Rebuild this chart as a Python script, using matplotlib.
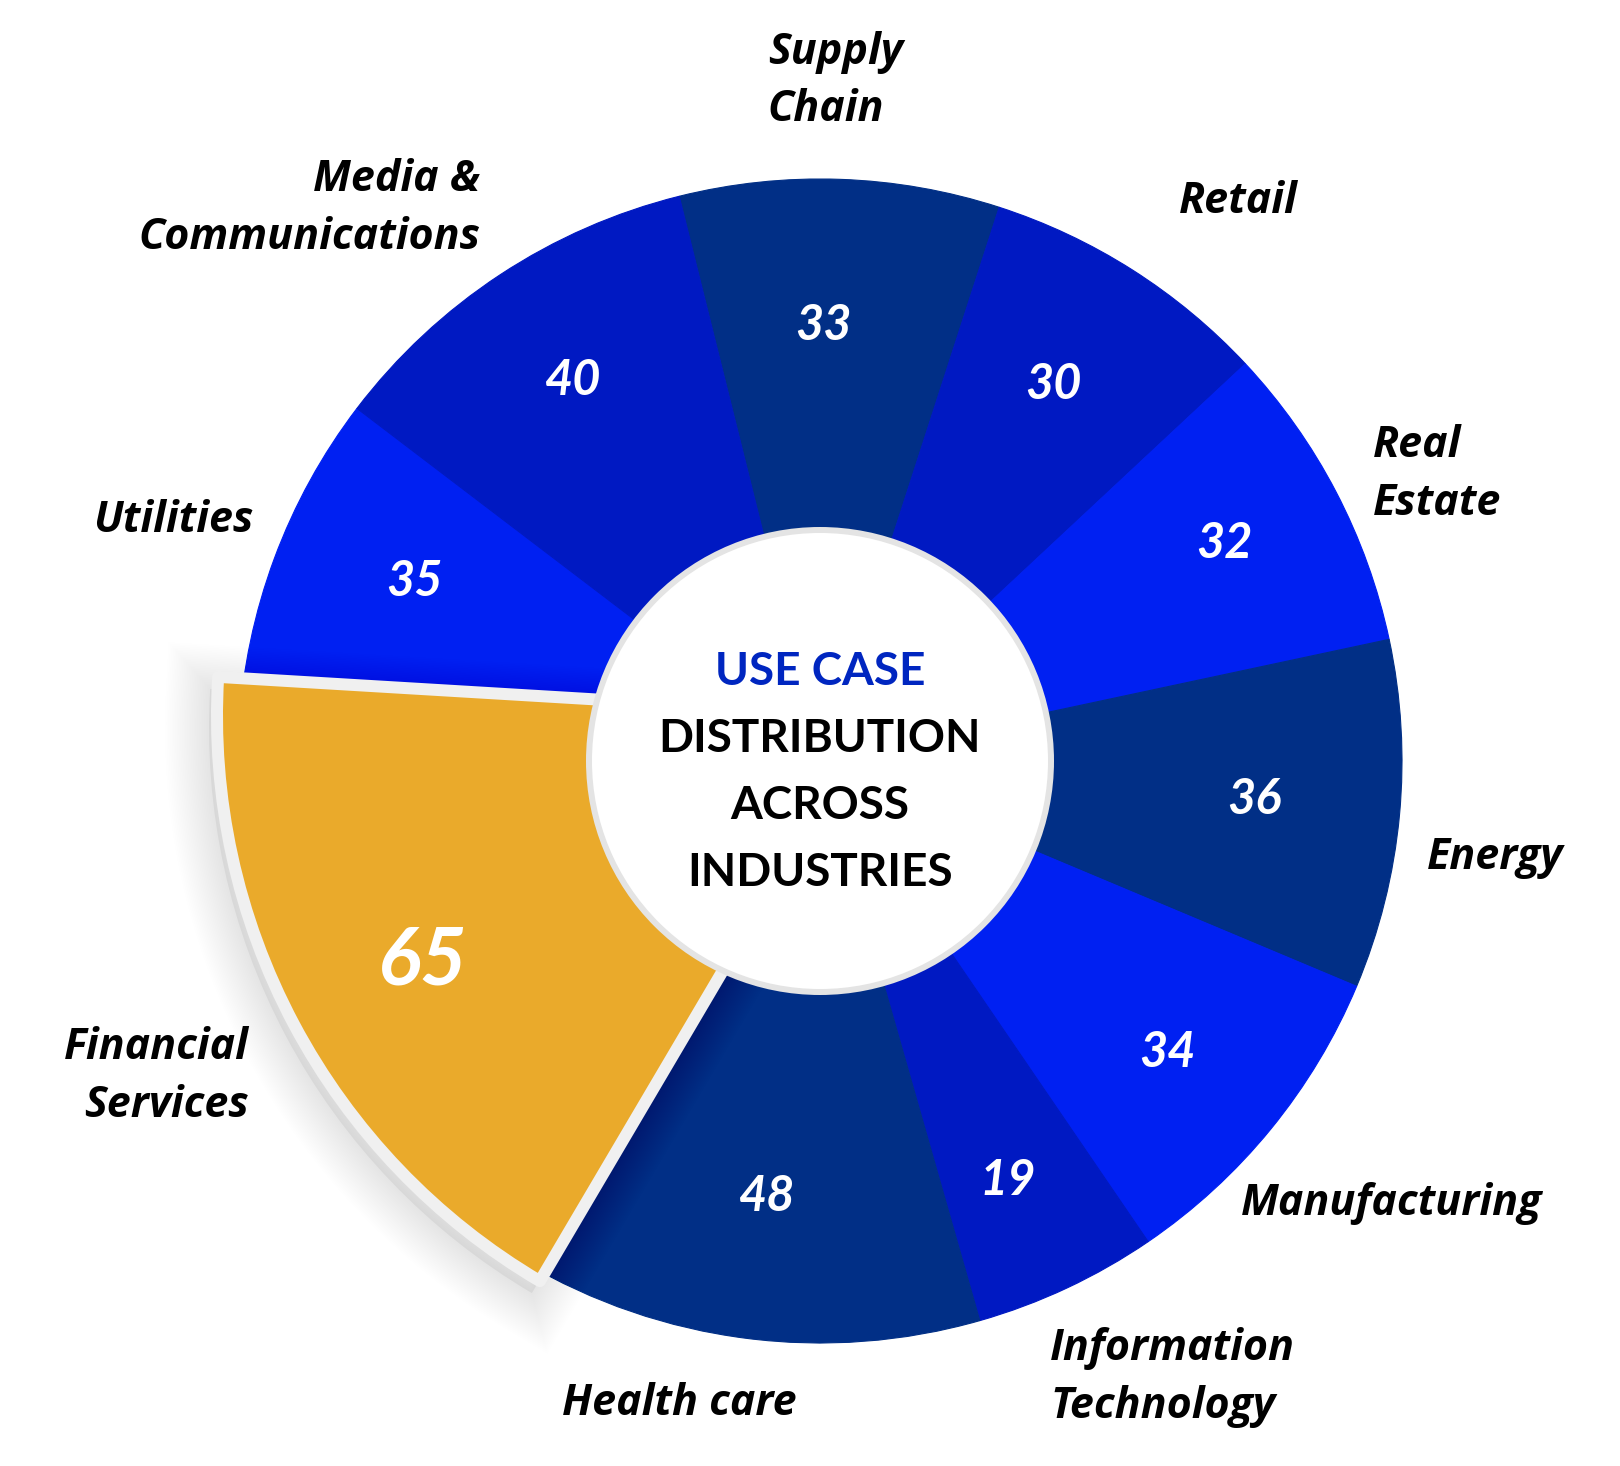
import numpy as np
import matplotlib
matplotlib.use("Agg")
import matplotlib.pyplot as plt
from matplotlib.patches import Wedge, Circle

plt.rcParams['font.family'] = ['Lato', 'DejaVu Sans']

# data, clockwise from the top
industries = ["Supply\nChain", "Retail", "Real\nEstate", "Energy", "Manufacturing",
              "Information\nTechnology", "Health care", "Financial\nServices",
              "Utilities", "Media &\nCommunications"]
use_cases = [33, 30, 32, 36, 34, 19, 48, 65, 35, 40]

NAVY, MID, BRIGHT, ORANGE = '#012F86', '#0019C2', '#0020F2', '#EAAA2B'
colors = [NAVY, MID, BRIGHT, NAVY, BRIGHT, MID, NAVY, ORANGE, BRIGHT, MID]

center_lines = ["USE CASE", "DISTRIBUTION", "ACROSS", "INDUSTRIES"]
center_colors = ['#0026C0', 'black', 'black', 'black']

# layout (pixels)
W, H = 1620, 1466
cx, cy = 820, H - 761
R = 582
R_hole = 231
label_r = 620
num_r = 445
# small hand nudges (dx right, dy down) for outside labels and values
nudge = [(-6, -10), (26, -15), (3, 0), (-10, 39), (-59, 29),
         (-33, 5), (-62, 6), (-24, 24), (15, -25), (1, 16)]
num_nudge = [(-12, 6), (-5, -4), (10, -15), (-9, -6), (3, 7),
             (-1, 14), (4, -9), (-4, -15), (12, -28), (-2, -12)]

fig = plt.figure(figsize=(W / 100, H / 100), dpi=100)
ax = fig.add_axes([0, 0, 1, 1])

wedges, _ = ax.pie(use_cases, colors=colors, startangle=104, counterclock=False,
                   radius=R, center=(cx, cy),
                   wedgeprops=dict(width=400, linewidth=0))
# hide the hairline seams between slices
for w, col in zip(wedges, colors):
    w.set_edgecolor(col)
    w.set_linewidth(0.8)

hi = use_cases.index(max(use_cases))
fw = wedges[hi]
px = 0.72  # points per pixel

# the highlighted slice is enlarged a bit and pulled off-centre
f_center = (cx + 53, cy + 45)
f_radius = 656

# soft drop shadow
sc = (f_center[0] - 8, f_center[1] - 12)
ax.add_patch(Wedge(sc, f_radius, fw.theta1, fw.theta2, facecolor=(0, 0, 0, 0.05),
                   linewidth=0, zorder=2))
for i in range(26):
    ax.add_patch(Wedge(sc, f_radius, fw.theta1, fw.theta2, facecolor='none',
                       edgecolor=(0, 0, 0, 0.0045), linewidth=(i + 1) * 3.4 * px,
                       zorder=2))

fw.set_center(f_center)
fw.set_radius(f_radius)
fw.set_width(None)
fw.set_edgecolor('#F0F0F0')
fw.set_linewidth(12 * px)
fw.set_joinstyle('round')
fw.set_zorder(3)

ax.add_patch(Circle((cx, cy), R_hole, facecolor='white', edgecolor='#E4E4E4',
                    linewidth=6 * px, zorder=4))

for i, (w, lab, v) in enumerate(zip(wedges, industries, use_cases)):
    mid = np.deg2rad((w.theta1 + w.theta2) / 2)
    c, s = np.cos(mid), np.sin(mid)

    # value inside the slice
    size = 58 if i == hi else 35
    cap = 0.72 * size / px
    ndx, ndy = num_nudge[i]
    ax.text(cx + num_r * c + ndx, cy + num_r * s - ndy - cap / 2, str(v),
            color='white', fontsize=size, fontweight='bold', fontstyle='italic',
            ha='center', va='baseline', zorder=6)

    # category name outside
    ha = 'left' if c > 0.2 else ('right' if c < -0.2 else 'center')
    va = 'bottom' if s > 0.5 else ('top' if s < -0.5 else 'center')
    ma = 'right' if ha == 'right' else 'left'
    dx, dy = nudge[i]
    ax.text(cx + label_r * c + dx, cy + label_r * s - dy, lab, color='black',
            fontsize=31, fontweight='bold', fontstyle='italic',
            family=['Open Sans', 'DejaVu Sans'],
            ha=ha, va=va, multialignment=ma, linespacing=1.45, zorder=6)

# centre title
cap = 0.72 * 33 / px
for j, (t, col) in enumerate(zip(center_lines, center_colors)):
    yc = cy - (j - 1.5) * 66.7 - 8
    ax.text(cx, yc - cap / 2, t, color=col, fontsize=33, fontweight='bold',
            ha='center', va='baseline', zorder=6)

ax.set_xlim(0, W)
ax.set_ylim(0, H)
ax.set_aspect('equal')
ax.axis('off')
fig.savefig('out.png', dpi=100, facecolor='white')
